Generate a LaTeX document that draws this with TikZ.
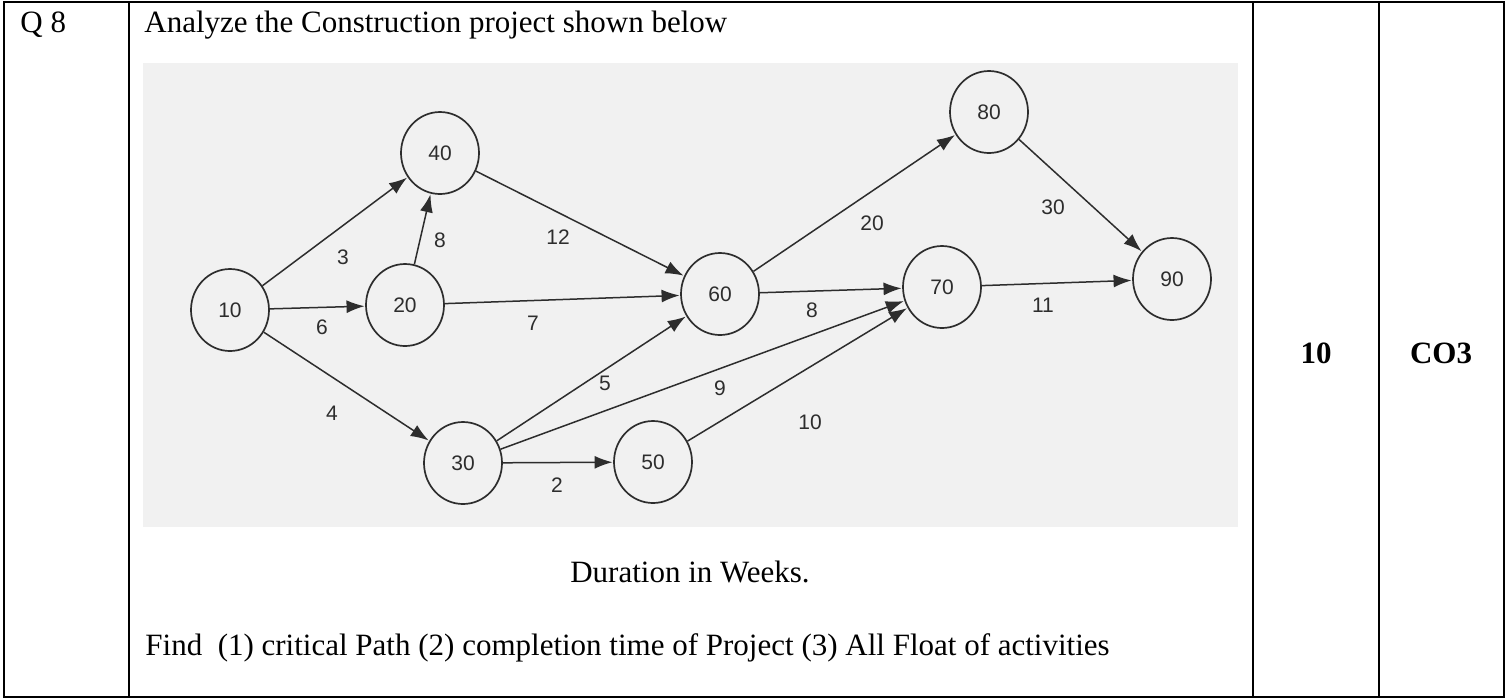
\documentclass[tikz,border=0pt]{standalone}
\usepackage{fontspec}
\setmainfont{Liberation Serif}
\newfontfamily\graphfont{Liberation Sans}
\usetikzlibrary{arrows.meta,shapes.geometric}
\definecolor{ink}{RGB}{45,45,45}
\definecolor{photo}{RGB}{241,241,241}
\tikzset{
  event/.style={ellipse,draw=ink,line width=0.85pt,fill=photo,minimum width=39pt,minimum height=41pt,inner sep=0pt,
    font=\graphfont\fontsize{10.5}{12}\selectfont,text=ink},
  act/.style={draw=ink,line width=0.75pt,-{Latex[length=9pt,width=6.5pt]},shorten >=0.3pt},
  dur/.style={font=\graphfont\fontsize{10.5}{12}\selectfont,text=ink,inner sep=0pt},
  txt/.style={font=\fontsize{15.5}{18}\selectfont,inner sep=0pt},
  btxt/.style={font=\fontsize{15.5}{18}\selectfont\bfseries,inner sep=0pt},
  outer/.style={line width=1pt,draw=black},
  inner/.style={line width=0.6pt,draw=black}
}
\begin{document}
\begin{tikzpicture}[x=0.5pt,y=-0.5pt]
\useasboundingbox (0,0) rectangle (1506,698);
% table
\draw[outer] (4,2) rectangle (1504,697);
\draw[inner] (129,2) -- (129,697);
\draw[inner] (1253,2) -- (1253,697);
\draw[inner] (1379,2) -- (1379,697);
% texts
\node[txt,anchor=base west] (q) at (20,32) {Q 8};
\node[txt,anchor=base west] (title) at (144,32) {Analyze the Construction project shown below};
\node[txt,anchor=base] (dur) at (690,582) {Duration in Weeks.};
\node[txt,anchor=base west] (find) at (145,655) {Find\ \ (1) critical Path (2) completion time of Project (3) All Float of activities};
\node[btxt,anchor=base] (marks) at (1316,363) {10};
\node[btxt,anchor=base] (co) at (1441,363) {CO3};
% photo background
\fill[photo] (143,63) rectangle (1238,527);
% events
\node[event] (n10) at (230,310) {10};
\node[event] (n20) at (405,305) {20};
\node[event] (n40) at (440,153) {40};
\node[event] (n30) at (463,463) {30};
\node[event] (n50) at (653,462) {50};
\node[event] (n60) at (720,294) {60};
\node[event] (n70) at (942,287) {70};
\node[event] (n80) at (989,112) {80};
\node[event] (n90) at (1172,279) {90};
% activities
\draw[act] (n10) -- (n40);
\draw[act] (n10) -- (n20);
\draw[act] (n10) -- (n30);
\draw[act] (n20) -- (n40);
\draw[act] (n20) -- (n60);
\draw[act] (n40) -- (n60);
\draw[act] (n30) -- (n60);
\draw[act] (n30) -- (n70);
\draw[act] (n30) -- (n50);
\draw[act] (n50) -- (n70);
\draw[act] (n60) -- (n70);
\draw[act] (n60) -- (n80);
\draw[act] (n80) -- (n90);
\draw[act] (n70) -- (n90);
% durations
\node[dur] (d1040) at (343,257) {3};
\node[dur] (d2040) at (440,240) {8};
\node[dur] (d4060) at (558,237) {12};
\node[dur] (d1020) at (322,327) {6};
\node[dur] (d2060) at (533,323) {7};
\node[dur] (d3060) at (605,383) {5};
\node[dur] (d1030) at (332,413) {4};
\node[dur] (d3070) at (720,388) {9};
\node[dur] (d5070) at (810,422) {10};
\node[dur] (d3050) at (557,485) {2};
\node[dur] (d6070) at (812,310) {8};
\node[dur] (d6080) at (872,223) {20};
\node[dur] (d8090) at (1053,207) {30};
\node[dur] (d7090) at (1043,305) {11};
\end{tikzpicture}
\end{document}
